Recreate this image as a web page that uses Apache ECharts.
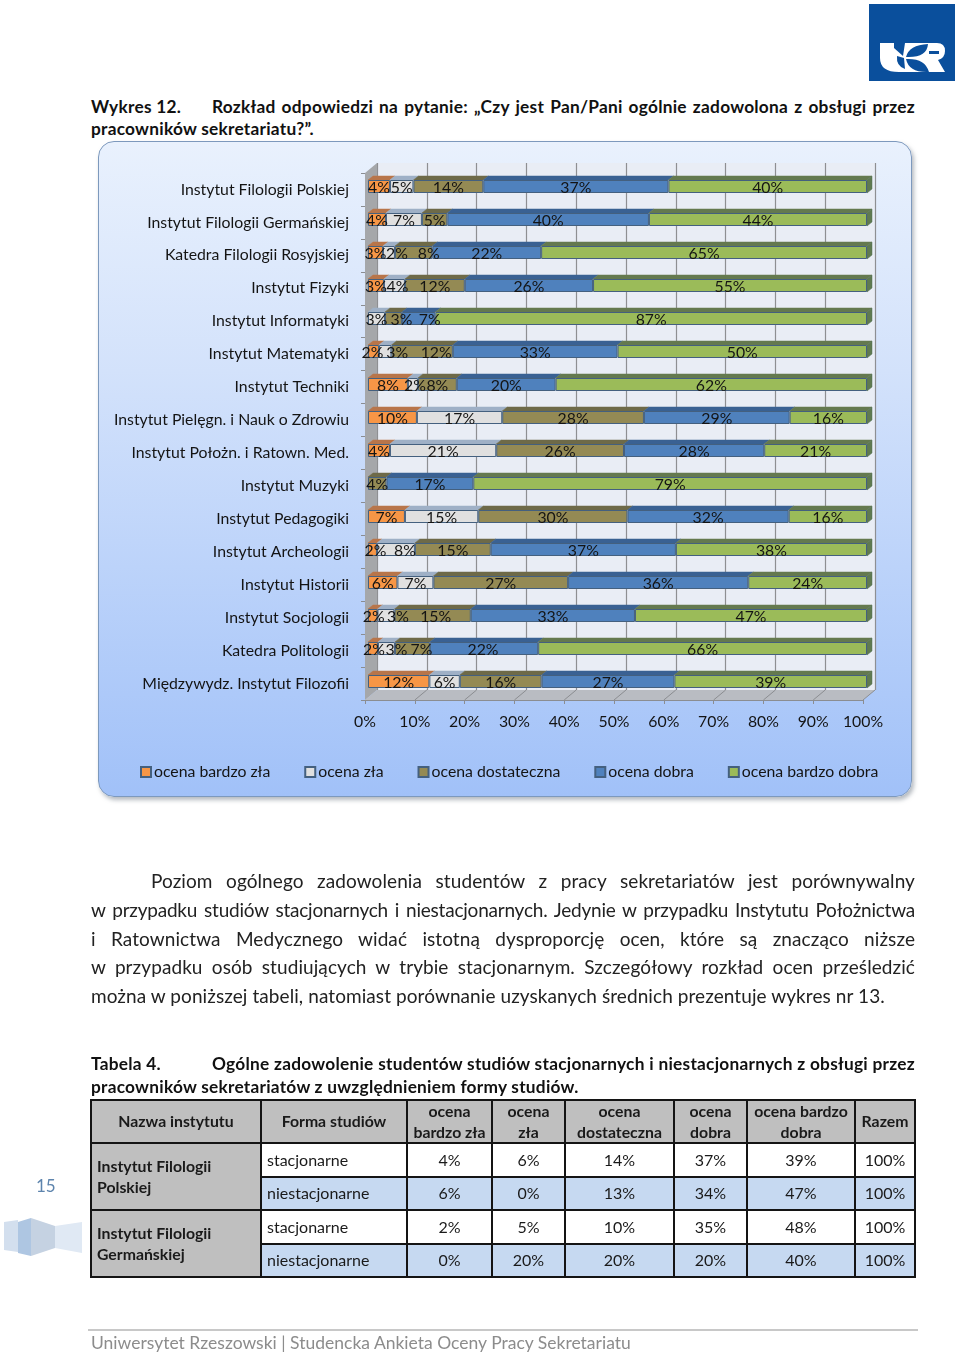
<!DOCTYPE html>
<html lang="pl"><head><meta charset="utf-8">
<script src="https://cdn.jsdelivr.net/npm/echarts@6/dist/echarts.min.js"></script>
<style>
html,body{margin:0;padding:0;background:#fff}
body{width:960px;height:1354px;position:relative;overflow:hidden;font-family:Lato,sans-serif;color:#111}
.abs{position:absolute}
.j{position:absolute;text-align:justify;text-align-last:justify;white-space:normal}
.h{font-weight:700;font-size:17.3px;letter-spacing:.25px;line-height:20px;height:20px;white-space:nowrap}
.j.h{white-space:normal}
.p{font-size:19px;letter-spacing:.08px;line-height:26px;height:26px;color:#222}
#panel{position:absolute;left:98px;top:141px;width:812px;height:654px;border-radius:16px;border:1.5px solid #7d99bd;
background:linear-gradient(180deg,#e9f1fd 0%,#d3e2fb 35%,#bcd3fa 65%,#a1c1f8 100%);box-shadow:2px 3px 4px rgba(120,130,140,.55)}
#chart{position:absolute;left:0;top:0;width:960px;height:1354px}
table{position:absolute;left:90px;top:1099px;width:824px;height:177px;border-collapse:collapse;table-layout:fixed;font-size:16px;color:#1a1a1a}
td,th{border:2px solid #141414;padding:0;text-align:center;line-height:20.5px}
th{background:#bfbfbf;font-weight:700;font-size:15.8px}
td.n{background:#bfbfbf;font-weight:700;font-size:15.8px;text-align:left;padding-left:5px}
td.f{text-align:left;padding-left:5px}
tr.alt td:not(.n){background:#c6d9f1}
</style></head><body>
<svg class="abs" style="left:869px;top:4px" width="86" height="77" viewBox="0 0 86 77">
<rect width="86" height="77" fill="#0a4f9c"/>
<path d="M11 39H68Q76 39 76 47Q76 54 69 56L76 68H30Q11 68 11 54Z" fill="#fff"/>
<path d="M25 39H36L34 52L25 44ZM37 53Q40 41 59 40Q58 54 37 53ZM37 55Q56 54 60 68Q40 69 37 55ZM28 52L35 54L36 65Q27 62 28 52ZM60 47H70V50H60Z" fill="#0a4f9c"/>
</svg>
<div class="abs h" style="left:91px;top:97px">Wykres 12.</div>
<div class="j h" style="left:212px;top:97px;width:703px">Rozkład odpowiedzi na pytanie: „Czy jest Pan/Pani ogólnie zadowolona z obsługi przez</div>
<div class="abs h" style="left:91px;top:119px">pracowników sekretariatu?”.</div>
<div id="panel"></div>
<div id="chart"></div>
<div class="j p" style="left:151px;top:868px;width:764px">Poziom ogólnego zadowolenia studentów z pracy sekretariatów jest porównywalny</div>
<div class="j p" style="left:91px;top:897px;width:824px;letter-spacing:-.22px;word-spacing:-1px">w przypadku studiów stacjonarnych i niestacjonarnych. Jedynie w przypadku Instytutu Położnictwa</div>
<div class="j p" style="left:91px;top:926px;width:824px">i Ratownictwa Medycznego widać istotną dysproporcję ocen, które są znacząco niższe</div>
<div class="j p" style="left:91px;top:954px;width:824px">w przypadku osób studiujących w trybie stacjonarnym. Szczegółowy rozkład ocen prześledzić</div>
<div class="abs p" style="left:91px;top:983px;white-space:nowrap">można w poniższej tabeli, natomiast porównanie uzyskanych średnich prezentuje wykres nr 13.</div>
<div class="abs h" style="left:91px;top:1054px">Tabela 4.</div>
<div class="j h" style="left:212px;top:1054px;width:703px">Ogólne zadowolenie studentów studiów stacjonarnych i niestacjonarnych z obsługi przez</div>
<div class="abs h" style="left:91px;top:1077px">pracowników sekretariatów z uwzględnieniem formy studiów.</div>
<table id="tbl"></table>
<div class="abs" style="left:36px;top:1175px;font-size:17px;color:#5d84ad">15</div>
<svg class="abs" style="left:0;top:1210px" width="90" height="55">
<path d="M4 12L18 10V42L4 40Z" fill="#d3dfee"/><path d="M18 12L31 8V46L18 43Z" fill="#aec6e2"/>
<path d="M31 8L55 16V38L31 46Z" fill="#c5d2e2"/><path d="M55 16L82 12V43L55 38Z" fill="#e0e9f4"/>
</svg>
<div class="abs" style="left:88px;top:1329px;width:830px;height:1.5px;background:#c8c8c8"></div>
<div class="abs" style="left:91px;top:1332px;font-size:17.5px;color:#8c8c8c;white-space:nowrap">Uniwersytet Rzeszowski | Studencka Ankieta Oceny Pracy Sekretariatu</div>
<script>
const categories=['Instytut Filologii Polskiej','Instytut Filologii Germańskiej','Katedra Filologii Rosyjskiej','Instytut Fizyki','Instytut Informatyki','Instytut Matematyki','Instytut Techniki','Instytut Pielęgn. i Nauk o Zdrowiu','Instytut Położn. i Ratown. Med.','Instytut Muzyki','Instytut Pedagogiki','Instytut Archeologii','Instytut Historii','Instytut Socjologii','Katedra Politologii','Międzywydz. Instytut Filozofii'];
const bardzoZla=[4.4,3.6,3.0,3.2,null,2.2,8,9.8,4.4,null,7.4,1.8,5.9,1.9,2,12.3];
const zla=[4.7,7.2,2.4,4.2,3.4,2.5,2,17.1,21.3,null,14.7,7.6,7.2,3.4,3.4,6.1];
const dostateczna=[14,5.1,7.5,12,3.4,12.3,7.8,28.4,25.6,3.7,29.9,15.2,27,15.3,7,16.4];
const dobra=[37.1,40.4,21.8,25.7,6.7,33,19.8,29.2,28.1,17.4,32.3,37.1,36.1,32.9,21.7,26.6];
const bardzoDobra=[39.8,43.7,65.3,54.9,86.5,50,62.4,15.5,20.6,78.9,15.7,38.3,23.8,46.5,65.9,38.6];
const seriesNames=['ocena bardzo zła','ocena zła','ocena dostateczna','ocena dobra','ocena bardzo dobra'];
const tableHeader=['Nazwa instytutu','Forma studiów','ocena<br>bardzo zła','ocena<br>zła','ocena<br>dostateczna','ocena<br>dobra','ocena bardzo<br>dobra','Razem'];
const tableInstitutes=['Instytut Filologii<br>Polskiej','Instytut Filologii<br>Germańskiej'];
const tableForms=['stacjonarne','niestacjonarne'];
const tableValues=[[4,6,14,37,39,100],[6,0,13,34,47,100],[2,5,10,35,48,100],[0,20,20,20,40,100]];

const widths=[170,146,85,73,109,73,108,60];
let html='<colgroup>'+widths.map(w=>`<col style="width:${w}px">`).join('')+'</colgroup>';
html+='<tr style="height:43px">'+tableHeader.map(t=>`<th>${t}</th>`).join('')+'</tr>';
tableValues.forEach((r,i)=>{
  html+=`<tr class="${i%2?'alt':''}" style="height:33.5px">`;
  if(i%2===0)html+=`<td class="n" rowspan="2">${tableInstitutes[i/2]}</td>`;
  html+=`<td class="f">${tableForms[i%2]}</td>`+r.map(v=>`<td>${v}%</td>`).join('')+'</tr>';
});
document.getElementById('tbl').innerHTML=html;

const layers=[bardzoZla,zla,dostateczna,dobra,bardzoDobra];
const front=['#f79646','#e0e0e0','#948a54','#4f81bd','#9bbb59'];
const topFace=['#b8754a','#9fb0c6','#6e6a48','#3a6193','#64794f'];
const edge='#44607f';
const font='Lato';
const textCol='#141414';
const barH=13, bdx=5, bdy=4, wdx=12, wdy=10;
// the reference moves the labels of narrow segments sideways so they stay legible (row -> shift per layer)
const labelNudges={2:[0,8,15],3:[0,3],4:[0,0,8,11],5:[-1,12,14],6:[0,2],11:[3,9],13:[1,12,3],14:[1,10,9,-1]};

const barSeries=layers.map((vals,i)=>({
  type:'bar',name:seriesNames[i],stack:'all',xAxisIndex:0,yAxisIndex:0,barWidth:barH,z:3,
  data:vals.map((v,r)=>({value:v,label:{offset:[(labelNudges[r]&&labelNudges[r][i])||0,1]}})),
  itemStyle:{color:front[i],borderColor:edge,borderWidth:1},
  label:{show:true,position:'inside',fontFamily:font,fontSize:15.8,color:textCol,formatter:p=>Math.round(p.value)+'%'}
}));
const tops=layers.map((vals,i)=>{
  const d=[];
  vals.forEach((v,r)=>{ if(v){ let s=0; for(let k=0;k<i;k++) s+=layers[k][r]||0; d.push([s,s+v,r]); } });
  return {type:'custom',name:'top'+i,xAxisIndex:0,yAxisIndex:0,z:2,silent:true,clip:false,data:d,encode:{x:[0,1],y:2},
    renderItem(params,api){
      const a=api.coord([api.value(0),api.value(2)]),b=api.coord([api.value(1),api.value(2)]);
      const y=a[1]-barH/2, children=[{type:'polygon',shape:{points:[[a[0],y],[b[0],y],[b[0]+bdx,y-bdy],[a[0]+bdx,y-bdy]]},style:{fill:topFace[i],stroke:topFace[i],lineWidth:.5}}];
      if(i===4) children.push({type:'polygon',shape:{points:[[b[0],y],[b[0]+bdx,y-bdy],[b[0]+bdx,y-bdy+barH],[b[0],y+barH]]},style:{fill:'#5f7a50',stroke:'#55705a',lineWidth:.5}});
      return {type:'group',children};
    }};
});
const room={type:'custom',name:'room',xAxisIndex:2,yAxisIndex:2,z:1,silent:true,clip:false,data:[0],
  renderItem(params,api){
    const c=params.coordSys, x=c.x,y=c.y,w=c.width,h=c.height,b=y+h;
    return {type:'group',children:[
      {type:'polygon',shape:{points:[[x,y],[x+wdx,y-wdy],[x+wdx,b-wdy],[x,b]]},style:{fill:'#a5a7aa'}},
      {type:'polygon',shape:{points:[[x,b],[x+wdx,b-wdy],[x+w+wdx,b-wdy],[x+w,b]]},style:{fill:'#b9bcc2'}}
    ]};
  }};
const tickVals=[10,20,30,40,50,60,70,80,90,100];
const floorLines={type:'custom',name:'floorLines',xAxisIndex:2,yAxisIndex:2,z:1,silent:true,clip:false,data:tickVals.map(v=>[v]),encode:{x:0},
  renderItem(params,api){
    const c=params.coordSys, X=api.coord([api.value(0),0])[0], b=c.y+c.height;
    return {type:'line',shape:{x1:X,y1:b,x2:X+wdx,y2:b-wdy},style:{stroke:'#8b8d91',lineWidth:1}};
  }};

const chart=echarts.init(document.getElementById('chart'),null,{renderer:'canvas'});
chart.setOption({
  animation:false,backgroundColor:'transparent',
  textStyle:{fontFamily:font},
  grid:[
    {left:368,top:170,width:499,height:528},
    {left:377,top:163,width:498,height:527,show:true,backgroundColor:'#e9edf5',borderWidth:0},
    {left:365,top:173,width:498,height:527}
  ],
  xAxis:[
    {gridIndex:0,type:'value',min:0,max:100,show:false},
    {gridIndex:1,type:'value',min:0,max:100,interval:10,axisLine:{show:false},axisTick:{show:false},axisLabel:{show:false},splitLine:{show:true,lineStyle:{color:'#8e8f92',width:1.2}}},
    {gridIndex:2,type:'value',min:0,max:100,interval:10,splitLine:{show:false},axisLine:{show:true,lineStyle:{color:'#8b8d91'}},axisTick:{show:true,length:4,lineStyle:{color:'#8b8d91'}},
      axisLabel:{margin:14,fontFamily:font,fontSize:15.8,color:textCol,formatter:'{value}%',hideOverlap:false}}
  ],
  yAxis:[
    {gridIndex:0,type:'category',data:categories,inverse:true,show:false},
    {gridIndex:1,type:'value',axisLine:{show:false},axisTick:{show:false},axisLabel:{show:false},splitLine:{show:false}},
    {gridIndex:2,type:'category',data:categories,inverse:true,axisLine:{show:false},axisTick:{show:true,length:4,lineStyle:{color:'#8b8d91'}},
      axisLabel:{margin:16,interval:0,fontFamily:font,fontSize:15.8,color:textCol,padding:[3,0,0,0]}}
  ],
  legend:{data:seriesNames,left:135,top:759,icon:'rect',itemWidth:10,itemHeight:10,itemGap:34,
    textStyle:{fontFamily:font,fontSize:15.8,color:textCol,padding:[0,0,0,-2]}},
  series:[room,floorLines,...tops,...barSeries]
});
</script>
</body></html>
